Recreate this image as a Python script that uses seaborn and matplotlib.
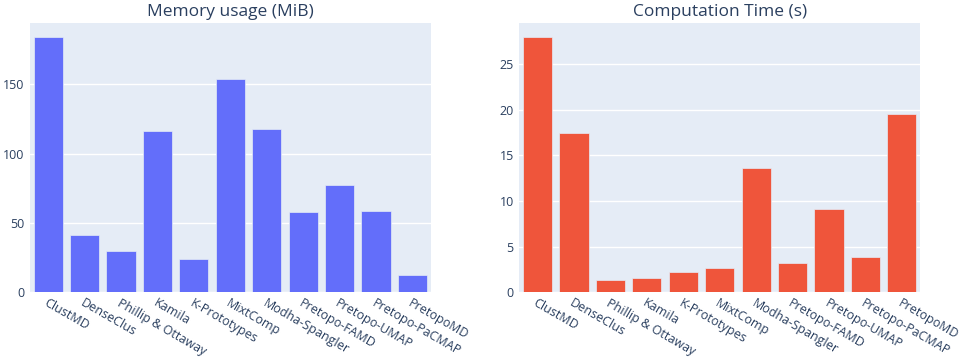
import numpy as np
import pandas as pd
import matplotlib
matplotlib.use("Agg")
import matplotlib.pyplot as plt
import seaborn as sns

# %% Data
methods = ["ClustMD", "DenseClus", "Phillip & Ottaway", "Kamila", "K-Prototypes",
           "MixtComp", "Modha-Spangler", "Pretopo-FAMD", "Pretopo-UMAP",
           "Pretopo-PaCMAP", "PretopoMD"]
memory_mib = [184.3, 41.5, 29.6, 116.1, 24.0, 153.6, 117.5, 58.1, 77.1, 58.9, 12.5]
time_s = [28.0, 17.4, 1.31, 1.57, 2.26, 2.66, 13.58, 3.21, 9.16, 3.83, 19.53]

df = pd.DataFrame({"method": methods, "memory": memory_mib, "time": time_s})

# %% Style (plotly-like)
sns.set_theme(style="darkgrid", rc={
    "axes.facecolor": "#E5ECF6",
    "grid.color": "white",
    "grid.linewidth": 1.0,
    "axes.edgecolor": "#E5ECF6",
})
plt.rcParams["font.family"] = ["Open Sans", "DejaVu Sans"]
TEXT = "#2a3f5f"

fig = plt.figure(figsize=(9.59, 3.6), dpi=100)
ax1 = fig.add_axes([30 / 959, 1 - 292.3 / 360, 400.7 / 959, 269.6 / 360])
ax2 = fig.add_axes([519.3 / 959, 1 - 292.3 / 360, 400.7 / 959, 269.6 / 360])

panels = [
    (ax1, "memory", "#636EFA", "Memory usage (MiB)", [0, 50, 100, 150]),
    (ax2, "time", "#EF553B", "Computation Time (s)", [0, 5, 10, 15, 20, 25]),
]

for ax, col, color, title, yticks in panels:
    sns.barplot(data=df, x="method", y=col, color=color, saturation=1,
                width=0.8, edgecolor="#E5ECF6", linewidth=0.5, ax=ax)
    ax.set_xlim(-0.5, len(methods) - 0.5)
    ax.set_ylim(0, max(df[col]) * 1.055)
    ax.set_yticks(yticks)
    ax.set_xlabel("")
    ax.set_ylabel("")
    ax.grid(axis="x", visible=False)
    ax.set_axisbelow(True)
    ax.tick_params(axis="both", length=0, colors=TEXT, labelsize=9)
    ax.tick_params(axis="y", pad=4)
    ax.set_xticks(range(len(methods)))
    ax.set_xticklabels(methods, rotation=-30, ha="left", va="top",
                       rotation_mode="anchor", color=TEXT)
    ax.tick_params(axis="x", pad=3)
    for s in ax.spines.values():
        s.set_visible(False)
    ax.set_title(title, color=TEXT, fontsize=12.5, pad=5)

fig.savefig("out.png", dpi=100)
